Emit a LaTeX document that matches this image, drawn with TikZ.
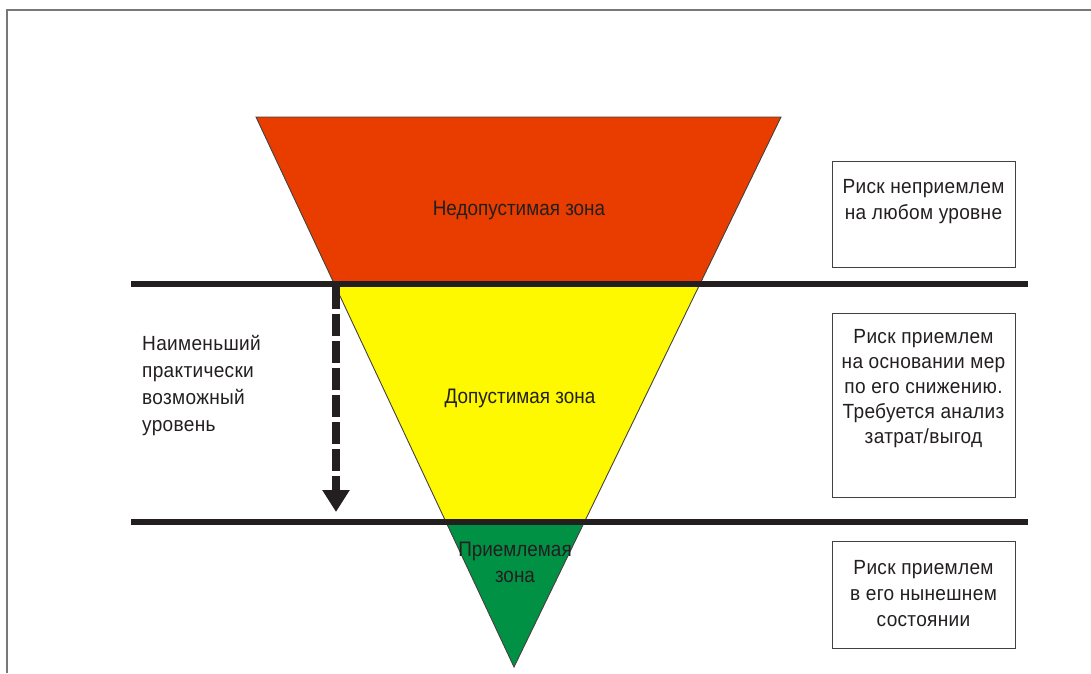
\documentclass[tikz,border=0pt]{standalone}
\usepackage{fontspec}
\setmainfont[FakeStretch=0.9]{Liberation Sans}
\newfontfamily\notefont[FakeStretch=0.93,LetterSpace=1.5]{Liberation Sans}
\usetikzlibrary{arrows.meta}
\definecolor{zonered}{RGB}{233,61,0}
\definecolor{zoneyellow}{RGB}{255,249,0}
\definecolor{zonegreen}{RGB}{0,145,69}
\definecolor{ink}{RGB}{35,31,32}
\definecolor{framegray}{RGB}{120,120,120}
\begin{document}
\begin{tikzpicture}[x=1pt,y=-1pt,
  edge/.style={draw=ink!85, line width=0.9pt, line join=miter},
  bar/.style={draw=ink, line width=6.8pt},
  infobox/.style={draw=ink!85, line width=1pt, fill=white, minimum width=183pt, inner sep=0pt},
  label/.style={text=ink, font=\fontsize{21}{26}\selectfont, align=center, inner sep=0pt},
  note/.style={text=ink, font=\notefont\fontsize{20.5}{26}\selectfont, align=center, inner sep=0pt},
  leftlabel/.style={text=ink, font=\notefont\fontsize{20.5}{27}\selectfont, align=left, inner sep=0pt, anchor=north west}]
\useasboundingbox (0,0) rectangle (1091,673);
\fill[white] (0,0) rectangle (1091,673);
% outer frame
\draw[framegray, line width=2pt] (7,673) -- (7,9.5) -- (1091,9.5);

% the inverted triangle, cut into three zones
\coordinate (tl) at (256,117);
\coordinate (tr) at (781,117);
\coordinate (apex) at (514,667);
\begin{scope}
  \clip (tl) -- (tr) -- (apex) -- cycle;
  \fill[zonered] (200,100) rectangle (800,284);
  \fill[zoneyellow] (200,284) rectangle (800,522);
  \fill[zonegreen] (200,522) rectangle (800,680);
\end{scope}
\draw[edge] (tl) -- (tr) -- (apex) -- cycle;

% zone boundaries
\coordinate (b1l) at (131,284);
\coordinate (b1r) at (1028,284);
\coordinate (b2l) at (131,522);
\coordinate (b2r) at (1028,522);
\draw[bar] (b1l) -- (b1r);
\draw[bar] (b2l) -- (b2r);

% zone names
\node[label] (zred) at (519,210) {Недопустимая зона};
\node[label] (zyel) at (520,398) {Допустимая зона};
\node[label] (zgrn) at (515,562) {Приемлемая\\зона};

% lowest practicable level arrow
\coordinate (arrtop) at (336,287);
\coordinate (arrtip) at (336,512);
\draw[ink, line width=7.5pt, dash pattern=on 22pt off 5pt,
      -{Triangle[width=26pt,length=22pt]}] (arrtop) -- (arrtip);
\node[leftlabel] (lvl) at (142,335) {Наименьший\\практически\\возможный\\уровень};

% explanations on the right
\node[infobox, minimum height=106pt] (box1) at (923.5,214) {};
\node[note] (t1) at (923.5,202) {Риск неприемлем\\на любом уровне};
\node[infobox, minimum height=184pt] (box2) at (923.5,405) {};
\node[note, font=\notefont\fontsize{20.5}{25}\selectfont] (t2) at (923.5,389) {Риск приемлем\\на основании мер\\по его снижению.\\Требуется анализ\\затрат/выгод};
\node[infobox, minimum height=107pt] (box3) at (923.5,594.5) {};
\node[note] (t3) at (923.5,593.5) {Риск приемлем\\в его нынешнем\\состоянии};
\end{tikzpicture}
\end{document}
